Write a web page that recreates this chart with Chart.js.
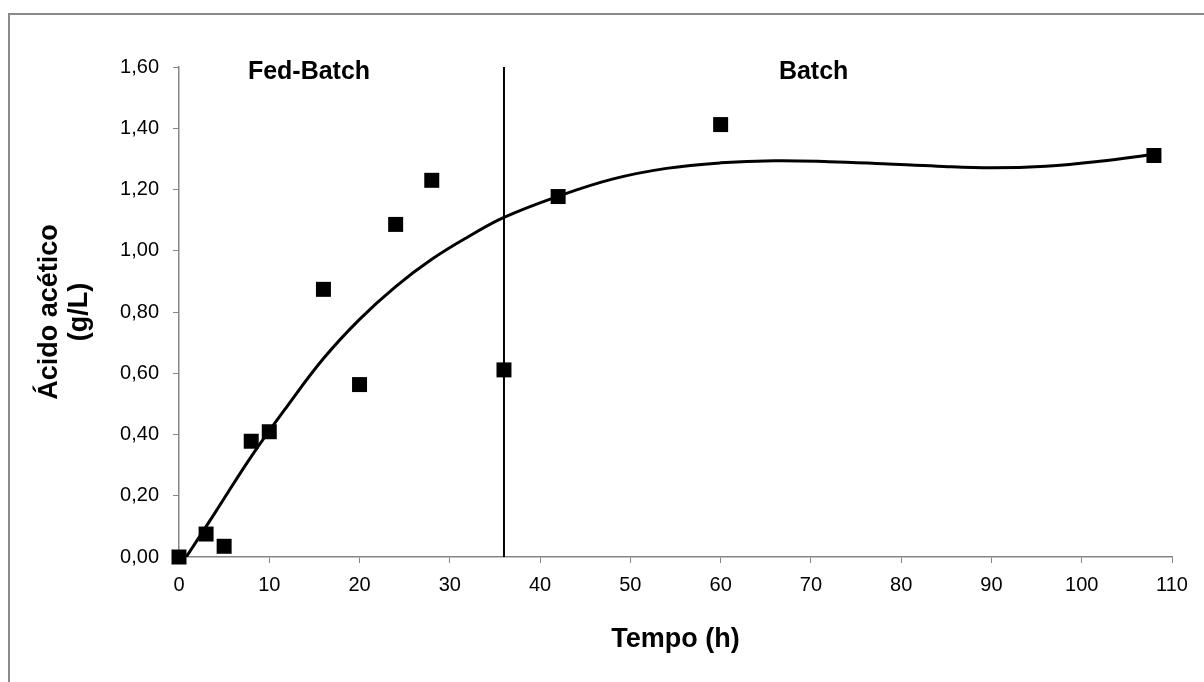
<!DOCTYPE html>
<html>
<head>
<meta charset="utf-8">
<script src="https://cdn.jsdelivr.net/npm/chart.js@4.4.1/dist/chart.umd.min.js"></script>
<style>
    html, body { margin: 0; padding: 0; background: #fff; }
    #wrap { position: relative; width: 1204px; height: 682px; overflow: hidden; }
    #frame {
        position: absolute; left: 8px; top: 13px; width: 1300px; height: 800px;
        border-left: 2px solid #898989; border-top: 2px solid #898989;
    }
    canvas { position: absolute; left: 0; top: 0; }
</style>
</head>
<body>
<div id="wrap">
    <div id="frame"></div>
    <canvas id="acetic" width="1204" height="682"></canvas>
</div>
<script>
// measured acetic acid concentration (g/L) over time (h)
const timeH = [0, 3, 5, 8, 10, 16, 20, 24, 28, 36, 42, 60, 108];
const aceticGL = [0, 0.075, 0.035, 0.378, 0.409, 0.874, 0.563, 1.086, 1.230, 0.611, 1.177, 1.412, 1.311];

// polynomial trend curve, sampled along its length
const trendTime = [0.8, 4, 8, 12, 16, 20, 24, 28, 32, 36, 42, 48, 54, 60, 66, 72, 78, 84, 90, 96, 102, 108];
const trendGL = [0, 0.145, 0.328, 0.493, 0.648, 0.776, 0.883, 0.972, 1.045, 1.109, 1.178, 1.234, 1.269,
    1.287, 1.294, 1.291, 1.284, 1.276, 1.271, 1.276, 1.292, 1.315];

// switch from fed-batch to batch operation
const switchTime = 36;
const phaseNames = ['Fed-Batch', 'Batch'];

const xTickMin = 0, xTickMax = 110, xTickStep = 10;
const yTickMin = 0, yTickMax = 1.6, yTickStep = 0.2;

const FONT = "'Liberation Sans', Arial, sans-serif";
const AXIS_GRAY = '#868686';

const phaseLabels = {
    id: 'phaseLabels',
    afterDatasetsDraw(chart) {
        const { ctx, scales: { x, y } } = chart;
        const at = [14.4, 70.3];
        ctx.save();
        ctx.fillStyle = '#000';
        ctx.font = "bold 25px " + FONT;
        ctx.textAlign = 'center';
        ctx.textBaseline = 'middle';
        phaseNames.forEach((name, i) => {
            ctx.fillText(name, x.getPixelForValue(at[i]), y.getPixelForValue(yTickMax) + 5);
        });
        ctx.restore();
    }
};

const points = timeH.map((t, i) => ({ x: t, y: aceticGL[i] }));
const trend = trendTime.map((t, i) => ({ x: t, y: trendGL[i] }));
const divider = [{ x: switchTime, y: yTickMin }, { x: switchTime, y: yTickMax }];

new Chart(document.getElementById('acetic'), {
    type: 'scatter',
    data: {
        datasets: [
            {
                data: points,
                pointStyle: 'rect',
                pointRadius: 10.6,
                pointHoverRadius: 10.6,
                backgroundColor: '#000',
                borderWidth: 0,
                clip: false,
                order: 0
            },
            {
                type: 'line',
                data: trend,
                borderColor: '#000',
                borderWidth: 3,
                pointRadius: 0,
                tension: 0.4,
                fill: false,
                order: 1
            },
            {
                type: 'line',
                data: divider,
                borderColor: '#000',
                borderWidth: 2,
                pointRadius: 0,
                fill: false,
                order: 2
            }
        ]
    },
    options: {
        responsive: false,
        animation: false,
        events: [],
        layout: { padding: { left: 0, right: 32, top: 67, bottom: 0 } },
        plugins: {
            legend: { display: false },
            tooltip: { enabled: false }
        },
        scales: {
            x: {
                type: 'linear',
                min: xTickMin,
                max: xTickMax,
                afterFit(scale) { scale.height = 125; },
                ticks: {
                    stepSize: xTickStep,
                    color: '#000',
                    padding: 10,
                    font: { family: FONT, size: 20 }
                },
                grid: { drawOnChartArea: false, drawTicks: true, tickLength: 6, color: AXIS_GRAY },
                border: { color: AXIS_GRAY, width: 1.5 },
                title: {
                    display: true,
                    text: 'Tempo (h)',
                    color: '#000',
                    padding: { top: 0, bottom: 26 },
                    font: { family: FONT, size: 27, weight: 'bold' }
                }
            },
            y: {
                min: yTickMin,
                max: yTickMax,
                afterFit(scale) { scale.width = 179; },
                ticks: {
                    stepSize: yTickStep,
                    color: '#000',
                    padding: 14,
                    font: { family: FONT, size: 20 },
                    callback: v => v.toFixed(2).replace('.', ',')
                },
                grid: { drawOnChartArea: false, drawTicks: true, tickLength: 6, color: AXIS_GRAY },
                border: { color: AXIS_GRAY, width: 1.5 },
                title: {
                    display: true,
                    text: ['Ácido acético', '(g/L)'],
                    color: '#000',
                    padding: { top: 35, bottom: 0 },
                    font: { family: FONT, size: 27, weight: 'bold', lineHeight: 1.1 }
                }
            }
        }
    },
    plugins: [phaseLabels]
});
</script>
</body>
</html>
